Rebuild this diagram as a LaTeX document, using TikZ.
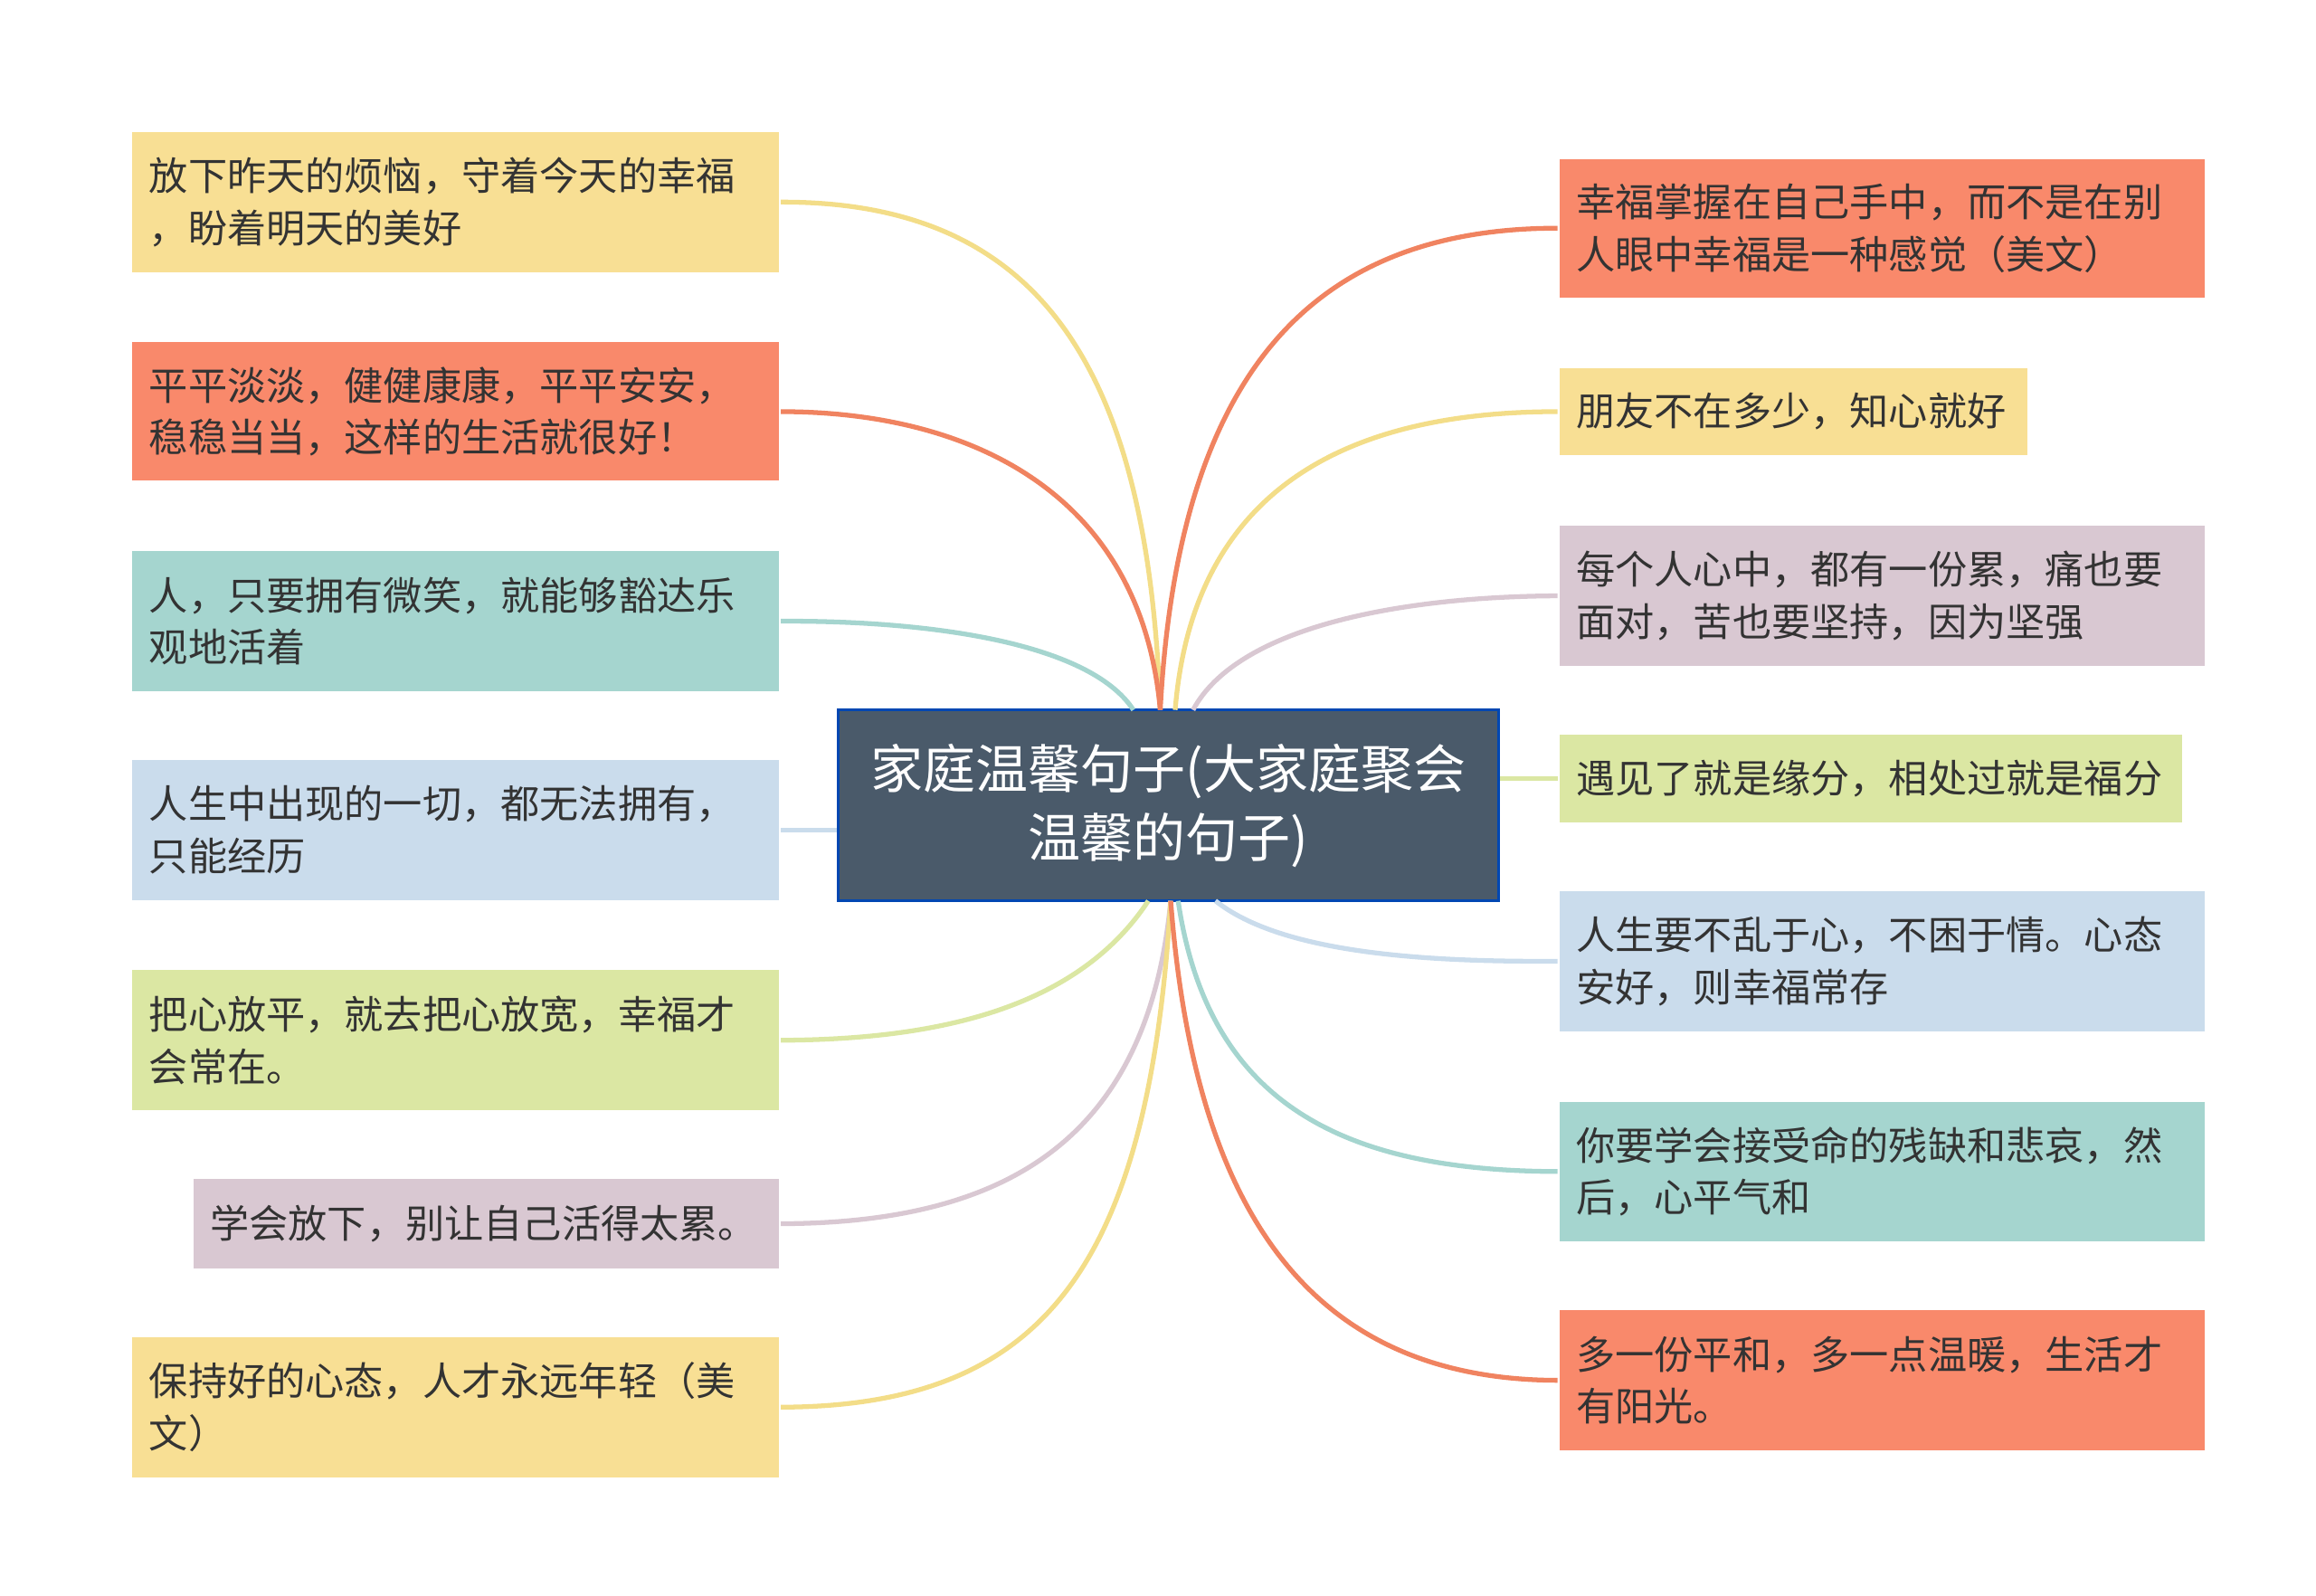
\documentclass[tikz,border=0pt]{standalone}
\usepackage{fontspec}
\setmainfont{Noto Sans CJK SC}
\definecolor{cy}{HTML}{F8DF94}
\definecolor{co}{HTML}{F9896B}
\definecolor{ct}{HTML}{A5D5CF}
\definecolor{cb}{HTML}{CADCEC}
\definecolor{cg}{HTML}{DBE7A3}
\definecolor{cp}{HTML}{D9C8D2}
\definecolor{cc}{HTML}{4A5A6A}
\definecolor{ly}{HTML}{F3DD88}
\definecolor{lo}{HTML}{F08360}
\tikzset{box/.style={draw=white,line width=0.6pt,inner sep=0pt,align=left,font=\fontsize{13.1}{17.5}\selectfont,text=black!80},
 conn/.style={line width=1.6pt}}
\newcommand\bx[7]{\pgfmathsetmacro\bw{(#4-#2)*0.5-12}%
 \node[box,fill=#6,minimum width={(#4-#2)*0.5pt},minimum height={(#5-#3)*0.5pt},text width=\bw pt] (#1) at ({(#2+#4)/2},{(#3+#5)/2}) {#7};}
\begin{document}
\begin{tikzpicture}[x=0.5pt,y=-0.5pt]
\useasboundingbox (0,0) rectangle (1553,1070);
\bx{l1}{88}{88}{523}{183}{cy}{放下昨天的烦恼，守着今天的幸福\\，盼着明天的美好}
\bx{l2}{88}{229}{523}{323}{co}{平平淡淡，健健康康，平平安安，\\稳稳当当，这样的生活就很好！}
\bx{l3}{88}{369}{523}{464}{ct}{人，只要拥有微笑，就能够豁达乐\\观地活着}
\bx{l4}{88}{509}{523}{604}{cb}{人生中出现的一切，都无法拥有，\\只能经历}
\bx{l5}{88}{650}{523}{745}{cg}{把心放平，就去把心放宽，幸福才\\会常在。}
\bx{l6}{129}{790}{523}{851}{cp}{学会放下，别让自己活得太累。}
\bx{l7}{88}{896}{523}{991}{cy}{保持好的心态，人才永远年轻（美\\文）}
\bx{r1}{1045}{106}{1479}{200}{co}{幸福掌握在自己手中，而不是在别\\人眼中幸福是一种感觉（美文）}
\bx{r2}{1045}{246}{1360}{306}{cy}{朋友不在多少，知心就好}
\bx{r3}{1045}{352}{1479}{447}{cp}{每个人心中，都有一份累，痛也要\\面对，苦也要坚持，因为坚强}
\bx{r4}{1045}{492}{1464}{552}{cg}{遇见了就是缘分，相处过就是福分}
\bx{r5}{1045}{597}{1479}{692}{cb}{人生要不乱于心，不困于情。心态\\安好，则幸福常存}
\bx{r6}{1045}{738}{1479}{833}{ct}{你要学会接受命的残缺和悲哀，然\\后，心平气和}
\bx{r7}{1045}{878}{1479}{973}{co}{多一份平和，多一点温暖，生活才\\有阳光。}
\node[draw=blue!60!cyan!70!black,line width=0.8pt,fill=cc,minimum width=221.5pt,minimum height=64pt,align=center,text=white,font=\fontsize{17.6}{23}\selectfont] (c) at (783.5,540) {家庭温馨句子(大家庭聚会\\温馨的句子)};
\coordinate (t1) at (778,476);
\coordinate (b1) at (785,604);
\draw[conn,ly] (t1) .. controls (770,250) and (700,135) .. (l1.east);
\draw[conn,lo] (t1) .. controls (765,330) and (650,276) .. (l2.east);
\draw[conn,ct] (760,476) .. controls (730,430) and (620,416) .. (l3.east);
\draw[conn,cb] (c.west|-l4.east) -- (l4.east);
\draw[conn,cg] (770,604) .. controls (720,680) and (620,697) .. (l5.east);
\draw[conn,cp] (b1) .. controls (770,760) and (680,820) .. (l6.east);
\draw[conn,ly] (b1) .. controls (770,850) and (700,943) .. (l7.east);
\draw[conn,lo] (t1) .. controls (790,250) and (880,153) .. (r1.west);
\draw[conn,ly] (788,476) .. controls (800,330) and (900,276) .. (r2.west);
\draw[conn,cp] (800,476) .. controls (830,420) and (940,400) .. (r3.west);
\draw[conn,cg] (c.east|-r4.west) -- (r4.west);
\draw[conn,cb] (815,604) .. controls (860,640) and (960,645) .. (r5.west);
\draw[conn,ct] (790,604) .. controls (810,740) and (900,785) .. (r6.west);
\draw[conn,lo] (b1) .. controls (800,800) and (870,925) .. (r7.west);
\end{tikzpicture}
\end{document}
